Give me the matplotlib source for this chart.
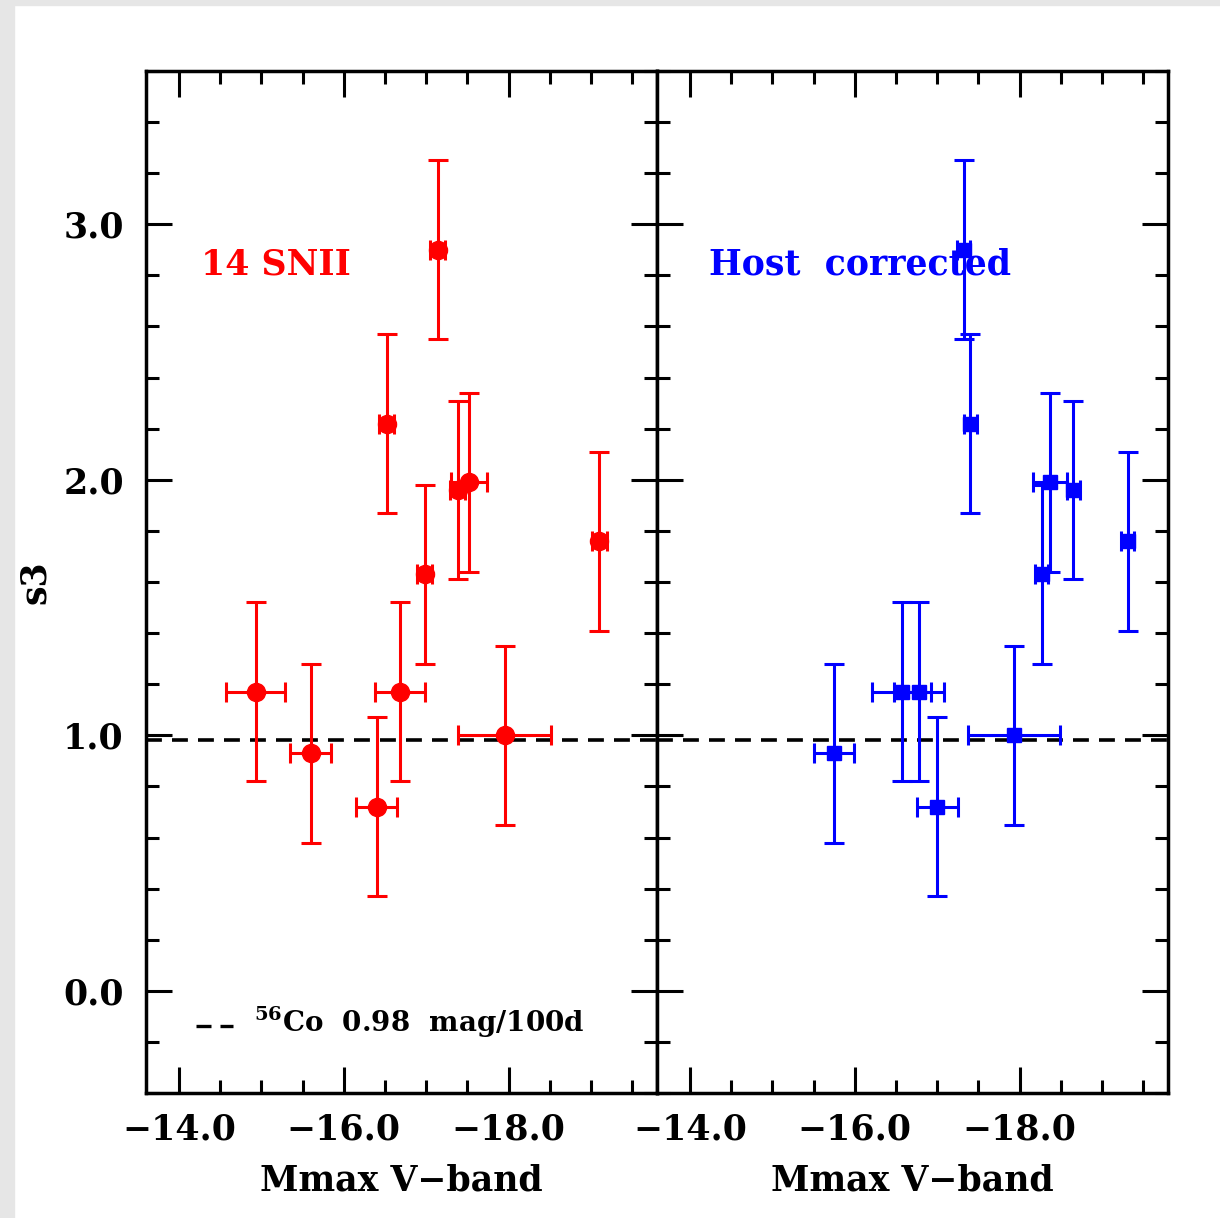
import matplotlib
matplotlib.use("Agg")
import matplotlib.pyplot as plt
from matplotlib.patches import Rectangle
from matplotlib.ticker import MultipleLocator, FuncFormatter

# === Data ===
# decline rate s3 and its error, same for both panels
s3 = [1.17, 0.93, 0.72, 1.17, 1.00, 1.63, 2.22, 2.90, 1.96, 1.99, 1.76]
s3_err = [0.35, 0.35, 0.35, 0.35, 0.35, 0.35, 0.35, 0.35, 0.35, 0.35, 0.35]

# Mmax V-band, raw (left panel)
mv_raw = [-14.93, -15.60, -16.40, -16.68, -17.95, -16.98, -16.52, -17.14, -17.38, -17.52, -19.10]
mv_raw_err = [0.36, 0.25, 0.25, 0.30, 0.56, 0.09, 0.09, 0.09, 0.09, 0.22, 0.09]

# Mmax V-band, host corrected (right panel)
mv_host = [-16.57, -15.75, -17.00, -16.78, -17.93, -18.27, -17.40, -17.32, -18.65, -18.37, -19.31]
mv_host_err = [0.36, 0.24, 0.25, 0.30, 0.56, 0.08, 0.08, 0.08, 0.08, 0.21, 0.08]

co_slope = 0.98
x_ticks = [-14.0, -16.0, -18.0]
y_ticks = [0.0, 1.0, 2.0, 3.0]

FONT = "DejaVu Serif"
plt.rcParams["font.family"] = FONT
plt.rcParams["font.weight"] = "bold"
plt.rcParams["axes.labelweight"] = "bold"
plt.rcParams["mathtext.fontset"] = "dejavuserif"


def fmt_tick(v, pos):
    s = "%.1f" % abs(v)
    return "\u2212" + s if v < 0 else s


fig = plt.figure(figsize=(12.2, 12.18), dpi=100)

# light grey frame of the screenshot (left and top)
fig.patches.append(Rectangle((0, 0), 14 / 1220, 1, transform=fig.transFigure,
                             color="#e6e6e6", zorder=-10))
fig.patches.append(Rectangle((0, 1 - 5 / 1218), 1, 5 / 1218, transform=fig.transFigure,
                             color="#e6e6e6", zorder=-10))

ax1 = fig.add_axes([146 / 1220, 125 / 1218, 511 / 1220, 1022 / 1218])
ax2 = fig.add_axes([657 / 1220, 125 / 1218, 511 / 1220, 1022 / 1218])


def style_axis(ax, show_ylabels):
    ax.set_xlim(-13.6, -19.8)
    ax.set_ylim(-0.4, 3.6)
    ax.xaxis.set_minor_locator(MultipleLocator(0.5))
    ax.yaxis.set_minor_locator(MultipleLocator(0.2))
    ax.set_xticks(x_ticks)
    ax.set_yticks(y_ticks)
    ax.xaxis.set_major_formatter(FuncFormatter(fmt_tick))
    ax.yaxis.set_major_formatter(FuncFormatter(fmt_tick))
    ax.tick_params(which="both", direction="in", top=True, right=True, width=2.2,
                   labelsize=25, color="black")
    ax.tick_params(which="major", length=19)
    ax.tick_params(which="minor", length=9.5)
    ax.tick_params(axis="x", which="major", pad=14)
    ax.tick_params(axis="y", which="major", pad=16)
    if not show_ylabels:
        ax.tick_params(axis="y", labelleft=False)
    for sp in ax.spines.values():
        sp.set_linewidth(2.5)
    ax.set_xlabel("Mmax V\u2212band", fontsize=25, fontweight="bold", labelpad=12)
    ax.axhline(co_slope, color="black", lw=2.6, dashes=(4.4, 2.8), zorder=1)


style_axis(ax1, True)
style_axis(ax2, False)

ax1.errorbar(mv_raw, s3, xerr=mv_raw_err, yerr=s3_err, fmt="o", color="red",
             ms=13, elinewidth=2.2, capsize=7, capthick=2.2, zorder=3)
ax2.errorbar(mv_host, s3, xerr=mv_host_err, yerr=s3_err, fmt="s", color="blue",
             ms=9.5, elinewidth=2.2, capsize=7, capthick=2.2, zorder=3)

ax1.set_ylabel("s3", fontsize=25, fontweight="bold", labelpad=8)

ax1.text(0.108, 0.811, "14 SNII", color="red", fontsize=25,
         transform=ax1.transAxes, va="center", ha="left")
ax2.text(0.102, 0.811, "Host  corrected", color="blue", fontsize=25,
         transform=ax2.transAxes, va="center", ha="left")

# legend for the dashed 56Co line
ax1.plot([0.098, 0.171], [0.066, 0.066], transform=ax1.transAxes, color="black",
         lw=2.4, dashes=(4.5, 2.7))
ax1.text(0.212, 0.069, r"$^{\mathbf{56}}$Co  0.98  mag/100d", fontsize=20,
         transform=ax1.transAxes, va="center", ha="left")

fig.savefig("out.png", dpi=100)
